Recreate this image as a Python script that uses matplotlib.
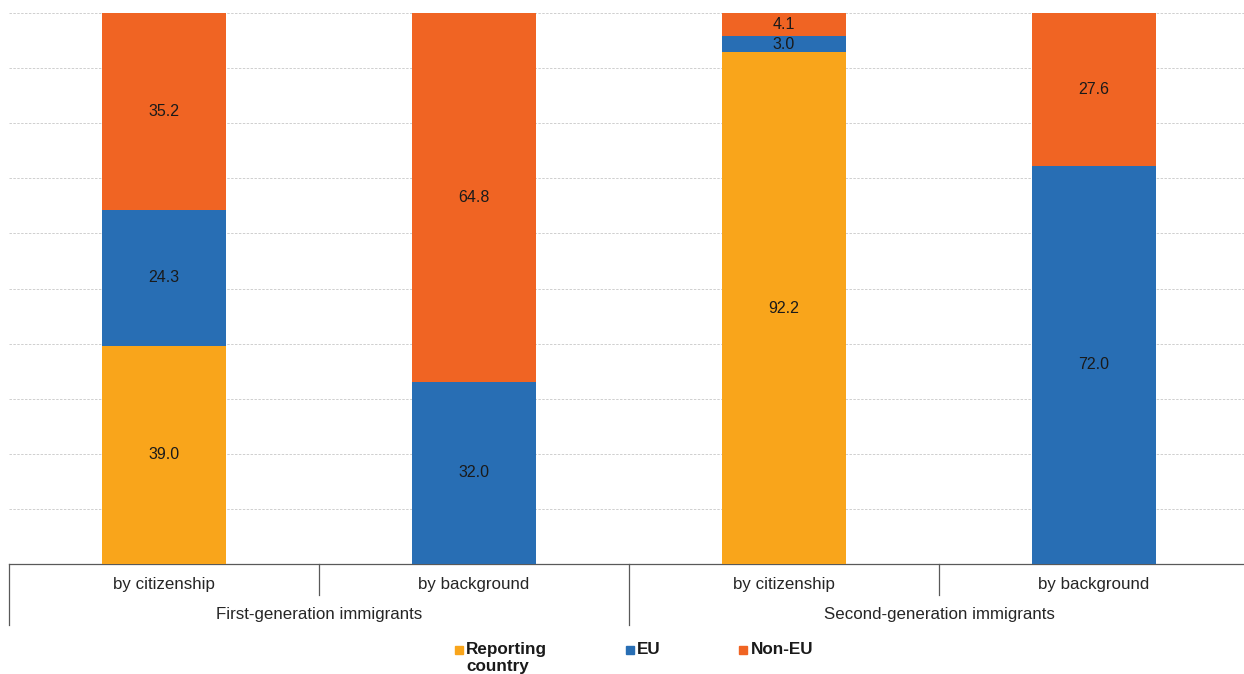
import matplotlib
matplotlib.use("Agg")
import matplotlib.pyplot as plt
from matplotlib.patches import Rectangle
import numpy as np

plt.rcParams['font.family'] = ['Liberation Sans', 'DejaVu Sans']

# Share of immigrants by country of birth of the parents (%)
categories = ["by citizenship", "by background", "by citizenship", "by background"]
groups = ["First-generation immigrants", "Second-generation immigrants"]
series_names = ["Reporting\ncountry", "EU", "Non-EU"]
reporting = [39.0, 0.0, 92.2, 0.0]
eu = [24.3, 32.0, 3.0, 72.0]
non_eu = [35.2, 64.8, 4.1, 27.6]
colors = ["#F9A51B", "#286EB4", "#F06423"]

W, H = 1244, 674
fig = plt.figure(figsize=(W / 100, H / 100), dpi=100)

# axes spans x 9..1249 px, y 13..564 px
ax_l, ax_r, ax_t, ax_b = 9, 1249, 13, 564
ax = fig.add_axes([ax_l / W, 1 - ax_b / H, (ax_r - ax_l) / W, (ax_b - ax_t) / H])

vals = np.array([reporting, eu, non_eu])
totals = vals.sum(axis=0)
shares = vals / totals * 100  # 100 % stacked

x = np.arange(len(categories))
bottom = np.zeros(len(categories))
for i, (row, raw) in enumerate(zip(shares, vals)):
    ax.bar(x, row, bottom=bottom, width=0.4, color=colors[i], zorder=3)
    for xi, b, h, v in zip(x, bottom, row, raw):
        if v > 0:
            ax.text(xi, b + h / 2, f"{v:.1f}", ha="center", va="center",
                    fontsize=11.5, color="#1a1a1a", zorder=4)
    bottom += row

ax.set_xlim(-0.5, len(categories) - 0.5)
ax.set_ylim(0, 100)
ax.set_yticks(np.arange(0, 101, 10))
ax.set_yticklabels([])
ax.tick_params(axis="both", length=0)
ax.set_xticks([])
ax.yaxis.grid(True, color="#cfcfcf", linewidth=0.7, linestyle=(0, (2.5, 1.5)), zorder=0)
for s in ["top", "right", "left"]:
    ax.spines[s].set_visible(False)
ax.spines["bottom"].set_color("#595959")
ax.spines["bottom"].set_linewidth(0.9)

# two-level category axis
ph = ax_b - ax_t
def yfrac(px):
    return -(px - ax_b) / ph

tr = ax.get_xaxis_transform()
for xi, lab in zip(x, categories):
    ax.text(xi, yfrac(585), lab, transform=tr, ha="center", va="center",
            fontsize=12.2, color="#262626")
for gi, g in enumerate(groups):
    ax.text(0.5 + 2 * gi, yfrac(615), g, transform=tr, ha="center", va="center",
            fontsize=12.2, color="#262626")

for xb in [-0.5, 1.5, 3.5]:
    ax.plot([xb, xb], [0, yfrac(625)], transform=tr, color="#595959",
            linewidth=0.9, clip_on=False)
for xb in [0.5, 2.5]:
    ax.plot([xb, xb], [0, yfrac(595)], transform=tr, color="#595959",
            linewidth=0.9, clip_on=False)

# legend
leg_sq = [455, 626, 739]
leg_tx = [466, 637, 751]
for sq, tx, name, c in zip(leg_sq, leg_tx, series_names, colors):
    fig.add_artist(Rectangle((sq / W, 1 - 654 / H), 8 / W, 8 / H,
                             transform=fig.transFigure, color=c))
    fig.text(tx / W, 1 - 642 / H, name, ha="left", va="top", fontsize=12.3,
             fontweight="bold", color="#1a1a1a", linespacing=1.2)

fig.savefig("out.png", dpi=100)
